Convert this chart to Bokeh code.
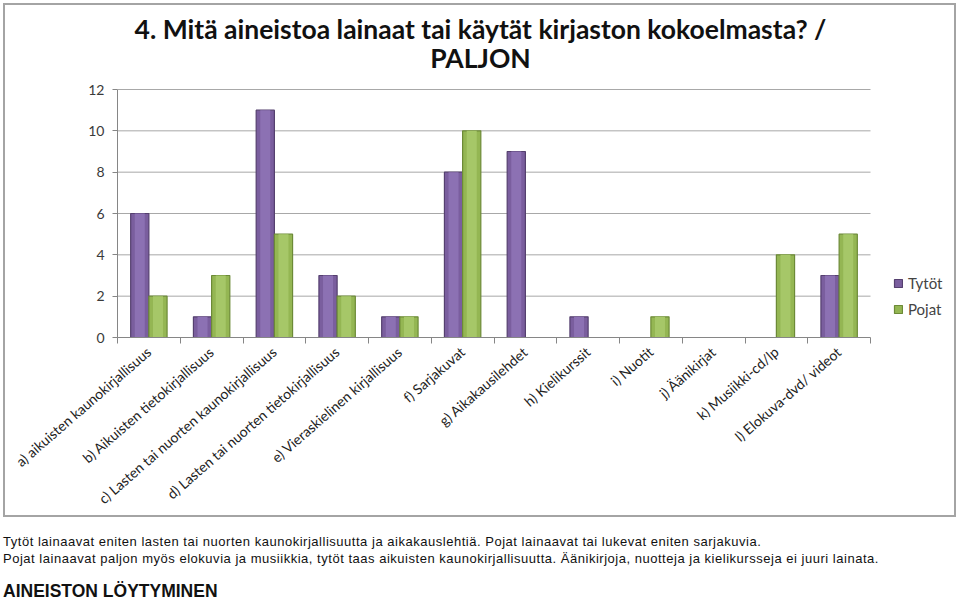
import math
from bokeh.plotting import figure
from bokeh.layouts import column
from bokeh.models import (ColumnDataSource, FixedTicker, Label, Range1d, Div,
                          Legend, LegendItem)
from bokeh.embed import file_html
from bokeh.resources import INLINE

categories = ["a) aikuisten kaunokirjallisuus", "b) Aikuisten tietokirjallisuus",
              "c) Lasten tai nuorten kaunokirjallisuus", "d) Lasten tai nuorten tietokirjallisuus",
              "e) Vieraskielinen kirjallisuus", "f) Sarjakuvat", "g) Aikakausilehdet",
              "h) Kielikurssit", "i) Nuotit", "j) Äänikirjat", "k) Musiikki-cd/lp",
              "l) Elokuva-dvd/ videot"]
tytot = [6, 1, 11, 3, 1, 8, 9, 1, 0, 0, 0, 3]
pojat = [2, 3, 5, 2, 1, 10, 0, 0, 1, 0, 4, 5]
y_ticks = [0, 2, 4, 6, 8, 10, 12]
title_lines = ["4. Mitä aineistoa lainaat tai käytät kirjaston kokoelmasta? /", "PALJON"]
text_lines = ["Tytöt lainaavat eniten lasten tai nuorten kaunokirjallisuutta ja aikakauslehtiä. Pojat lainaavat tai lukevat eniten sarjakuvia.",
              "Pojat lainaavat paljon myös elokuvia ja musiikkia, tytöt taas aikuisten kaunokirjallisuutta. Äänikirjoja, nuotteja ja kielikursseja ei juuri lainata."]
heading = "AINEISTON LÖYTYMINEN"

n = len(categories)
y_max = y_ticks[-1]
centers = [i + 0.5 for i in range(n)]
bw = 0.29
src = ColumnDataSource(dict(
    xt=[c - bw / 2 for c in centers], xp=[c + bw / 2 for c in centers],
    tytot=tytot, pojat=pojat))
grid_src = ColumnDataSource(dict(y=y_ticks[1:], x0=[0] * (len(y_ticks) - 1),
                                 x1=[n] * (len(y_ticks) - 1)))

# chart box placed at (3,3) in the page; canvas origin inside the 2px border at (5,5)
OX, OY = 5, 5
W, H = 953, 514
FL, FB = 117 - OX, 337 - OY      # frame left / value-0 line
X12, Y12 = 870 - OX, 89 - OY     # pixel positions of x = n and y = 12
ux = (X12 - FL) / n
uy = (FB - Y12) / y_max
x_end = (W - FL) / ux
y_end = FB / uy

FONT = "Lato"
p = figure(width=W, height=H, output_backend="svg", toolbar_location=None,
           x_range=Range1d(0, x_end), y_range=Range1d(0, y_end),
           min_border_left=FL, min_border_right=0, min_border_top=0,
           min_border_bottom=H - FB)
p.title.visible = False
p.outline_line_color = None
p.background_fill_color = "white"
p.border_fill_color = "white"
p.styles = {"border": "2px solid #A4A4A4"}
p.margin = (3, 0, 0, 3)

p.xgrid.visible = False
p.ygrid.visible = False
p.segment(x0="x0", x1="x1", y0="y", y1="y", source=grid_src, line_color="#A8A8A8", line_width=1)

rt = p.vbar(x="xt", top="tytot", width=bw, source=src, fill_color="#7A5E9E",
            line_color="#55406F", line_width=1.2)
rp = p.vbar(x="xp", top="pojat", width=bw, source=src, fill_color="#94B653",
            line_color="#6C8A37", line_width=1.2)
# lighter centre strip for the bevelled look
p.vbar(x="xt", top="tytot", width=bw * 0.55, source=src, fill_color="#8C71B3", line_color=None)
p.vbar(x="xp", top="pojat", width=bw * 0.55, source=src, fill_color="#A6C768", line_color=None)

p.yaxis.ticker = FixedTicker(ticks=y_ticks)
p.yaxis.bounds = (0, y_max)
p.yaxis.axis_line_color = "#868686"
p.yaxis.major_tick_line_color = "#868686"
p.yaxis.major_tick_out = 5
p.yaxis.major_tick_in = 0
p.yaxis.minor_tick_line_color = None
p.yaxis.major_label_text_font = FONT
p.yaxis.major_label_text_font_size = "14px"
p.yaxis.major_label_text_color = "#3A3A3A"
p.yaxis.major_label_standoff = 8

p.xaxis.ticker = FixedTicker(ticks=centers, minor_ticks=list(range(n + 1)))
p.xaxis.bounds = (0, n)
p.xaxis.major_label_overrides = {c: lab for c, lab in zip(centers, categories)}
p.xaxis.major_label_orientation = math.radians(41)
p.xaxis.axis_line_color = "#868686"
p.xaxis.major_tick_line_color = None
p.xaxis.minor_tick_line_color = "#868686"
p.xaxis.minor_tick_out = 6
p.xaxis.minor_tick_in = 0
p.xaxis.major_label_text_font = FONT
p.xaxis.major_label_text_font_size = "14px"
p.xaxis.major_label_text_color = "#222222"
p.xaxis.major_label_standoff = 6

legend = Legend(items=[LegendItem(label="Tytöt", renderers=[rt]),
                       LegendItem(label="Pojat", renderers=[rp])],
                location=(893 - OX - FL, FB - (318 - OY)), label_text_font=FONT,
                label_text_font_size="15px",
                glyph_width=10, glyph_height=10, label_height=18, spacing=8,
                border_line_color=None, background_fill_alpha=0, margin=0, padding=0)
p.add_layout(legend, "center")

for cy, t in zip([28, 57], title_lines):
    p.add_layout(Label(x=480 - OX - FL, y=FB - (cy - OY), x_units="screen", y_units="screen",
                       text=t, text_align="center", text_baseline="middle", text_font=FONT,
                       text_font_style="bold", text_font_size="26.5px", text_color="#111111"))

TFONT = "'Liberation Sans Narrow', 'Liberation Sans', sans-serif"
html = (f"<div style=\"font-family:{TFONT}; color:#111; padding-top:12px; margin-left:-2px;\">"
        f"<div style=\"font-size:13px; line-height:16.5px; letter-spacing:0.52px;\">{text_lines[0]}<br>{text_lines[1]}</div>"
        f"<div style=\"font-size:17.5px; font-weight:bold; margin-top:12px;\">{heading}</div></div>")
div = Div(text=html, width=960, height=76)

root = column(p, div, spacing=0)
open("out.html", "w").write(file_html(root, INLINE))
